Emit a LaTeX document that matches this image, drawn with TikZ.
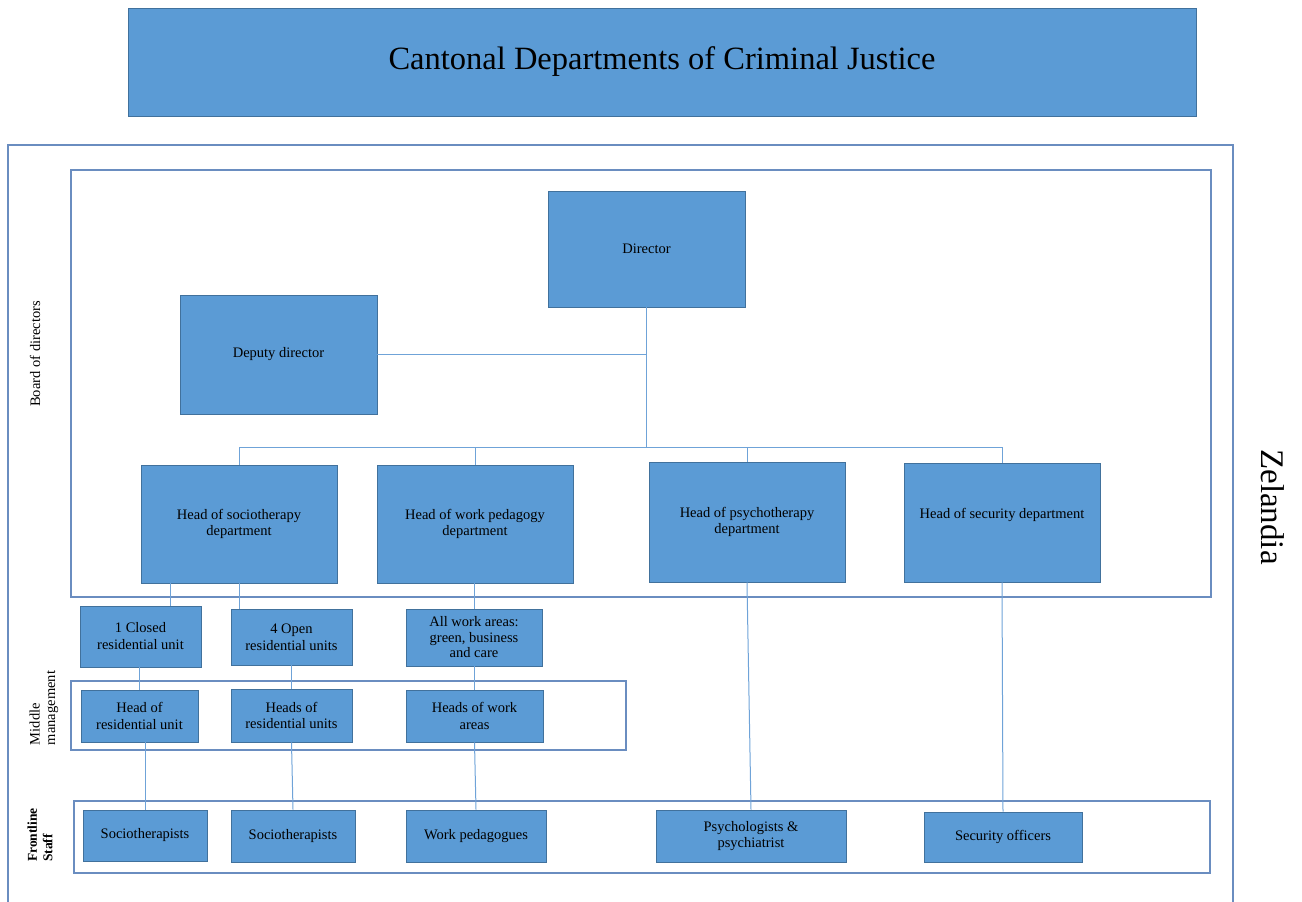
\documentclass[tikz,border=0pt]{standalone}
\usepackage{fontspec}
\setmainfont{Liberation Serif}
\definecolor{boxfill}{HTML}{5B9BD5}
\definecolor{boxline}{HTML}{41719C}
\definecolor{conn}{HTML}{6FA3D8}
\definecolor{frame}{HTML}{6A8DC0}
\begin{document}
\begin{tikzpicture}[x=1pt,y=-1pt,
  unit/.style={draw=boxline, fill=boxfill, line width=0.9pt, inner sep=0pt, align=center,
    font=\fontsize{14.5}{16.5}\selectfont, text=black},
  container/.style={draw=frame, line width=1.1pt},
  link/.style={draw=conn, line width=1pt},
  side/.style={font=\fontsize{14.5}{15.5}\selectfont, align=left, rotate=90}]
\useasboundingbox (0,0) rectangle (1302,902);

% containers
\draw[container] (8,902) -- (8,145) -- (1233,145) -- (1233,902);
\draw[container] (71,170) rectangle (1211,597);
\draw[container] (71,681) rectangle (626,750);
\draw[container] (74,801) rectangle (1210,873);

% title
\node[unit, minimum width=1068pt, minimum height=108pt, font=\fontsize{32.5}{36}\selectfont] (title) at (662,62) {Cantonal Departments of Criminal Justice};

% board
\node[unit, minimum width=197pt, minimum height=116pt] (director) at (646.5,249) {Director};
\node[unit, minimum width=197pt, minimum height=119pt] (deputy) at (278.5,354.5) {Deputy director};
\node[unit, minimum width=196pt, minimum height=118pt] (soc) at (239,524) {Head of sociotherapy\\department};
\node[unit, minimum width=196pt, minimum height=118pt] (wp) at (475,524) {Head of work pedagogy\\department};
\node[unit, minimum width=196pt, minimum height=120pt] (psy) at (747,522) {Head of psychotherapy\\department};
\node[unit, minimum width=196pt, minimum height=119pt] (sec) at (1002,522.5) {\raisebox{8pt}[\height][\depth]{Head of security department}};

% units
\node[unit, minimum width=121pt, minimum height=61pt, font=\fontsize{14.5}{17}\selectfont] (closed) at (140.5,636.5) {1 Closed\\residential unit};
\node[unit, minimum width=121pt, minimum height=56pt, font=\fontsize{14.5}{17}\selectfont] (open) at (291.5,637) {4 Open\\residential units};
\node[unit, minimum width=136pt, minimum height=57pt, font=\fontsize{14.5}{15.5}\selectfont] (areas) at (474,637.5) {All work areas:\\green, business\\and care};

% middle management
\node[unit, minimum width=117pt, minimum height=52pt] (hru) at (139.5,716) {Head of\\residential unit};
\node[unit, minimum width=121pt, minimum height=53pt] (hrus) at (291.5,715.5) {Heads of\\residential units};
\node[unit, minimum width=137pt, minimum height=52pt] (hwa) at (474.5,716) {Heads of work\\areas};

% frontline
\node[unit, minimum width=124pt, minimum height=51pt] (st1) at (145,835.5) {Sociotherapists};
\node[unit, minimum width=124pt, minimum height=52pt] (st2) at (293,836) {Sociotherapists};
\node[unit, minimum width=140pt, minimum height=52pt] (wpg) at (476,836) {Work pedagogues};
\node[unit, minimum width=190pt, minimum height=52pt] (psg) at (751,836) {Psychologists \&\\psychiatrist};
\node[unit, minimum width=158pt, minimum height=50pt] (sof) at (1003,837) {Security officers};

% side labels
\node[side] (board) at (35,354) {Board of directors};
\node[side] (mm) at (44,708) {Middle\\management};
\node[side, font=\fontsize{13.5}{15.5}\selectfont\bfseries] (fs) at (40,835) {Frontline\\Staff};
\node[rotate=-90, font=\fontsize{33}{36}\selectfont] (zel) at (1273,507) {Zelandia};

% connectors
\coordinate (bus) at (0,447);
\coordinate (c1) at (170,0);
\draw[link] (director.south) -- (director.south |- bus);
\draw[link] (deputy.east) -- (deputy.east -| director.south);
\draw[link] (soc.north |- bus) -- (sec.north |- bus);
\foreach \n in {soc,wp,psy,sec} \draw[link] (\n.north |- bus) -- (\n.north);
\draw[link] (soc.south -| c1) -- (closed.north -| c1);
\draw[link] (soc.south) -- (soc.south |- open.north);
\draw[link] (areas.north) -- (areas.north |- wp.south);
\draw[link] (hru.north) -- (hru.north |- closed.south);
\draw[link] (hrus.north) -- (hrus.north |- open.south);
\draw[link] (hwa.north) -- (hwa.north |- areas.south);
\draw[link] (st1.north) -- (st1.north |- hru.south);
\draw[link] (hrus.south) -- (st2.north);
\draw[link] (hwa.south) -- (wpg.north);
\draw[link] (psy.south) -- (psg.north);
\draw[link] (sec.south) -- (sof.north);
\end{tikzpicture}
\end{document}
